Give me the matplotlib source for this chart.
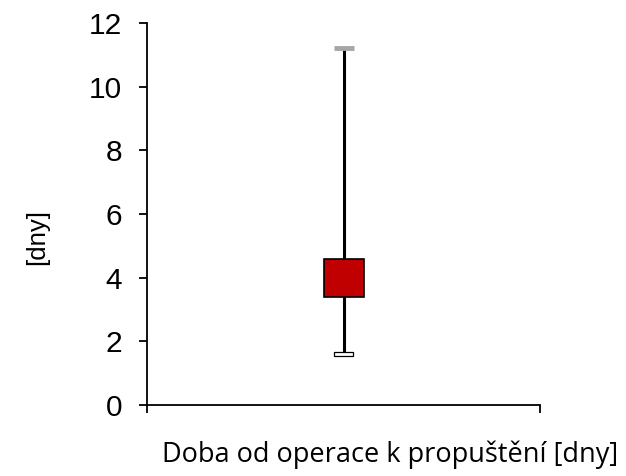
import matplotlib.pyplot as plt
import numpy as np

# summary values for the one category (days)
low = 1.6
q1 = 3.4
q3 = 4.6
high = 11.2
yticks = [0, 2, 4, 6, 8, 10, 12]

fig = plt.figure(figsize=(6.26, 4.76), dpi=100)
ax = fig.add_axes([0.235, 0.149, 0.628, 0.803])

xc = 0.5
# whisker from min to max
ax.vlines(xc, low, high, color='black', linewidth=2.2, zorder=1)
# box between q1 and q3
ax.bar(xc, q3 - q1, bottom=q1, width=0.102, color='#C00000',
       edgecolor='black', linewidth=1.2, zorder=2)
# top cap (grey) and bottom cap (hollow)
ax.hlines(high, xc - 0.025, xc + 0.025, color='#A6A6A6', linewidth=3.5, zorder=3)
ax.bar(xc, 0.14, bottom=low - 0.07, width=0.048, color='white',
       edgecolor='black', linewidth=0.9, zorder=3)

ax.set_xlim(0, 1)
ax.set_ylim(0, 12)
ax.set_yticks(yticks)
ax.set_yticklabels([str(v) for v in yticks], fontsize=21.5, family='Liberation Sans')
ax.set_xticks([0, 1])
ax.set_xticklabels([])
ax.tick_params(axis='both', direction='out', length=6, width=1.3, colors='black')
ax.tick_params(axis='y', pad=12)

for s in ['top', 'right']:
    ax.spines[s].set_visible(False)
for s in ['left', 'bottom']:
    ax.spines[s].set_linewidth(1.3)

fig.text(0.06, 0.503, '[dny]', rotation=90, ha='center', va='center',
         fontsize=18.5, family='Liberation Sans')
fig.text(0.623, 0.045, 'Doba od operace k propuštění [dny]', ha='center', va='center',
         fontsize=19.5, family='Open Sans')

fig.savefig('out.png', dpi=100)
